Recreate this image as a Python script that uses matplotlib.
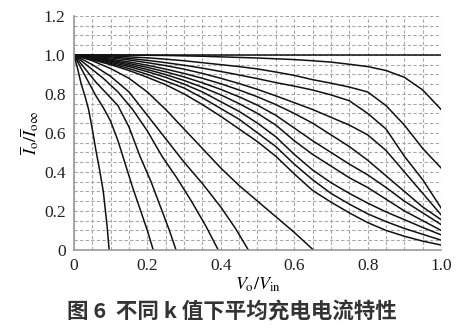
import matplotlib
matplotlib.use("Agg")
import matplotlib.pyplot as plt
import numpy as np

plt.rcParams['mathtext.fontset'] = 'stix'

# curves that drop to zero before Vo/Vin = 1  (small k)
xa = [0, 0.01, 0.02, 0.03, 0.04, 0.05, 0.06, 0.07, 0.08, 0.09, 0.096]
ya = [1, 0.93, 0.85, 0.79, 0.72, 0.62, 0.51, 0.41, 0.30, 0.13, 0]
xb = [0, 0.02, 0.04, 0.06, 0.08, 0.1, 0.12, 0.14, 0.16, 0.18, 0.2, 0.216]
yb = [1, 0.93, 0.86, 0.79, 0.73, 0.66, 0.56, 0.44, 0.32, 0.21, 0.10, 0]
xc = [0, 0.03, 0.06, 0.09, 0.12, 0.15, 0.18, 0.21, 0.24, 0.26, 0.278]
yc = [1, 0.93, 0.86, 0.80, 0.74, 0.63, 0.48, 0.35, 0.20, 0.10, 0]
xd = [0, 0.04, 0.08, 0.12, 0.16, 0.2, 0.24, 0.28, 0.32, 0.36, 0.393]
yd = [1, 0.94, 0.88, 0.81, 0.72, 0.61, 0.48, 0.37, 0.25, 0.12, 0]
xe = [0, 0.05, 0.1, 0.15, 0.2, 0.25, 0.3, 0.35, 0.4, 0.44, 0.475]
ye = [1, 0.95, 0.89, 0.81, 0.69, 0.57, 0.45, 0.34, 0.22, 0.11, 0]
xf = [0, 0.05, 0.1, 0.15, 0.2, 0.25, 0.3, 0.35, 0.4, 0.45, 0.5, 0.55, 0.6, 0.652]
yf = [1, 0.97, 0.93, 0.88, 0.81, 0.72, 0.62, 0.52, 0.42, 0.33, 0.25, 0.17, 0.09, 0]

# curves that reach Vo/Vin = 1  (large k)
xu = [0, 0.05, 0.1, 0.15, 0.2, 0.25, 0.3, 0.35, 0.4, 0.45, 0.5,
      0.55, 0.6, 0.65, 0.7, 0.75, 0.8, 0.85, 0.9, 0.95, 1.0]
u0 = [1] * 21
u1 = [1, 1, 1, 0.999, 0.998, 0.997, 0.995, 0.993, 0.99, 0.987, 0.984,
      0.98, 0.976, 0.97, 0.963, 0.952, 0.94, 0.92, 0.885, 0.82, 0.72]
u2 = [1, 0.998, 0.995, 0.99, 0.985, 0.978, 0.97, 0.96, 0.95, 0.94, 0.928,
      0.912, 0.895, 0.873, 0.855, 0.835, 0.81, 0.74, 0.64, 0.52, 0.42]
u3 = [1, 0.995, 0.99, 0.982, 0.972, 0.96, 0.947, 0.932, 0.915, 0.897, 0.878,
      0.858, 0.84, 0.82, 0.795, 0.765, 0.70, 0.62, 0.48, 0.36, 0.215]
u4 = [1, 0.993, 0.985, 0.974, 0.96, 0.945, 0.927, 0.905, 0.88, 0.853, 0.823,
      0.79, 0.755, 0.72, 0.68, 0.64, 0.59, 0.51, 0.40, 0.29, 0.18]
u5 = [1, 0.99, 0.978, 0.964, 0.947, 0.927, 0.905, 0.88, 0.852, 0.82, 0.785,
      0.745, 0.70, 0.65, 0.59, 0.53, 0.46, 0.38, 0.30, 0.22, 0.155]
u6 = [1, 0.988, 0.973, 0.956, 0.936, 0.913, 0.887, 0.857, 0.823, 0.785, 0.742,
      0.69, 0.625, 0.56, 0.50, 0.44, 0.385, 0.32, 0.25, 0.19, 0.13]
u7 = [1, 0.985, 0.968, 0.948, 0.925, 0.899, 0.869, 0.834, 0.795, 0.75, 0.70,
      0.64, 0.56, 0.49, 0.43, 0.37, 0.32, 0.26, 0.20, 0.15, 0.10]
u8 = [1, 0.982, 0.962, 0.94, 0.914, 0.885, 0.85, 0.81, 0.76, 0.71, 0.65,
      0.58, 0.49, 0.41, 0.345, 0.29, 0.24, 0.195, 0.155, 0.115, 0.077]
u9 = [1, 0.979, 0.956, 0.93, 0.9, 0.866, 0.83, 0.78, 0.725, 0.67, 0.60,
      0.53, 0.44, 0.36, 0.29, 0.235, 0.185, 0.145, 0.11, 0.08, 0.05]
u10 = [1, 0.975, 0.95, 0.92, 0.885, 0.847, 0.80, 0.745, 0.685, 0.62, 0.555,
       0.48, 0.39, 0.305, 0.245, 0.19, 0.14, 0.10, 0.07, 0.045, 0.025]

low_curves = [(xa, ya), (xb, yb), (xc, yc), (xd, yd), (xe, ye), (xf, yf)]
high_curves = [u0, u1, u2, u3, u4, u5, u6, u7, u8, u9, u10]

xticks = [0, 0.2, 0.4, 0.6, 0.8, 1.0]
xticklabels = ['0', '0.2', '0.4', '0.6', '0.8', '1.0']
yticks = [0, 0.2, 0.4, 0.6, 0.8, 1.0, 1.2]
yticklabels = ['0', '0.2', '0.4', '0.6', '0.8', '1.0', '1.2']

fig = plt.figure(figsize=(4.59, 3.31), dpi=100)
ax = fig.add_axes([0.161, 0.245, 0.800, 0.707])

for x, y in low_curves:
    ax.plot(x, y, color='#111111', lw=1.1)
for y in high_curves:
    ax.plot(xu, y, color='#111111', lw=1.1)

ax.set_xlim(0, 1.0)
ax.set_ylim(0, 1.2)
ax.set_xticks(np.arange(0, 1.001, 0.05), minor=True)
ax.set_yticks(np.arange(0, 1.201, 0.05), minor=True)
ax.set_xticks(xticks)
ax.set_xticklabels(xticklabels)
ax.set_yticks(yticks)
ax.set_yticklabels(yticklabels)
ax.grid(True, which='both', color='#a8a8a8', linestyle=(0, (3, 2)), lw=0.8)
ax.set_axisbelow(True)
ax.tick_params(which='both', length=0)
ax.tick_params(axis='x', pad=6)
ax.tick_params(axis='y', pad=6)
for lab in ax.get_xticklabels() + ax.get_yticklabels():
    lab.set_family('Liberation Serif')
    lab.set_fontsize(12.5)
    lab.set_color('#222222')

for s in ['top', 'right']:
    ax.spines[s].set_visible(False)
for s in ['left', 'bottom']:
    ax.spines[s].set_color('#999999')
    ax.spines[s].set_linewidth(1.2)

ax.set_xlabel(r'$V_\mathrm{o}/V_\mathrm{in}$', fontsize=13, labelpad=1)
ax.set_ylabel(r'$\overline{I}_\mathrm{o}/\overline{I}_{\mathrm{o}\infty}$', fontsize=13, labelpad=2)

fig.text(0.505, 0.058, '图 6  不同 k 值下平均充电电流特性', ha='center', va='center',
         fontsize=15.5, fontweight='bold', color='#333333',
         family=['Noto Sans CJK SC', 'DejaVu Sans'])

fig.savefig('out.png', dpi=100)
